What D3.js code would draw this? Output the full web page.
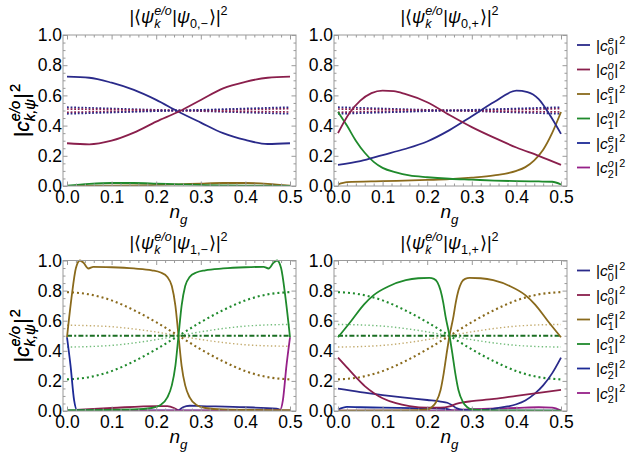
<!DOCTYPE html>
<html><head><meta charset="utf-8">
<script src="https://cdn.jsdelivr.net/npm/d3@7"></script>
<style>
body{margin:0;background:#fff}
svg{display:block}
text{font-family:"Liberation Sans",Arial,"DejaVu Sans",sans-serif;fill:#000}
</style>
</head><body>
<svg id="c" width="636" height="462"></svg>
<script>
// ---------- tick labels ----------
const xTicks = [0, 0.1, 0.2, 0.3, 0.4, 0.5];
const yTicks = [0, 0.2, 0.4, 0.6, 0.8, 1.0];
const xMinor = [0.02,0.04,0.06,0.08,0.12,0.14,0.16,0.18,0.22,0.24,0.26,0.28,0.32,0.34,0.36,0.38,0.42,0.44,0.46,0.48];
const yMinor = [0.05,0.1,0.15,0.25,0.3,0.35,0.45,0.5,0.55,0.65,0.7,0.75,0.85,0.9,0.95];
const legendKeys = ["c0e","c0o","c1e","c1o","c2e","c2o"];

// ---------- panel A : psi_{0,-} ----------
const A_c0e = [[0,.724],[.05,.717],[.1,.684],[.15,.636],[.2,.57],[.25,.492],[.3,.42],[.35,.35],[.4,.305],[.45,.278],[.5,.283]];
const A_c0o = [[0,.283],[.05,.276],[.1,.3],[.15,.353],[.2,.426],[.25,.492],[.3,.57],[.35,.647],[.4,.69],[.45,.717],[.5,.724]];
const A_c1o = [[0,.002],[.05,.014],[.1,.02],[.15,.02],[.2,.016],[.25,.011],[.3,.007],[.35,.004],[.4,.002],[.5,.001]];
const A_c1e = [[0,.001],[.1,.002],[.15,.004],[.2,.007],[.25,.011],[.3,.016],[.35,.02],[.4,.02],[.45,.014],[.5,.002]];
const A_dotNavy1 = [[0,.522],[.25,.5],[.5,.478]];
const A_dotRed1  = [[0,.51],[.25,.5],[.5,.49]];
const A_dotRed2  = [[0,.488],[.25,.5],[.5,.512]];
const A_dotNavy2 = [[0,.478],[.25,.5],[.5,.522]];

// ---------- panel B : psi_{0,+} ----------
const B_c0e = [[0,.14],[.05,.165],[.1,.205],[.15,.245],[.2,.295],[.25,.37],[.3,.462],[.35,.556],[.4,.631],[.425,.622],[.45,.575],[.475,.47],[.5,.345]];
const B_c0o = [[0,.35],[.025,.48],[.05,.565],[.075,.615],[.1,.632],[.125,.628],[.15,.61],[.2,.555],[.25,.47],[.3,.39],[.35,.32],[.4,.255],[.45,.2],[.5,.14]];
const B_c1o = [[0,.49],[.02,.4],[.04,.3],[.06,.22],[.08,.16],[.1,.12],[.13,.09],[.16,.07],[.2,.058],[.25,.048],[.3,.042],[.35,.036],[.4,.032],[.45,.03],[.48,.028],[.5,.01]];
const B_c1e = [[0,.01],[.02,.025],[.1,.032],[.2,.04],[.25,.045],[.3,.055],[.35,.07],[.4,.1],[.42,.125],[.44,.17],[.46,.24],[.48,.35],[.5,.49]];
const B_dotNavy1 = [[0,.522],[.25,.5],[.5,.478]];
const B_dotRed1  = [[0,.51],[.25,.5],[.5,.49]];
const B_dotRed2  = [[0,.488],[.25,.5],[.5,.512]];
const B_dotNavy2 = [[0,.478],[.25,.5],[.5,.522]];

// ---------- panel C : psi_{1,-} ----------
const C_c1e = [[0,.49],[.01,.75],[.02,.95],[.029,1.0],[.037,.985],[.048,.947],[.059,.958],[.1,.955],[.15,.947],[.19,.935],[.21,.92],[.225,.89],[.235,.83],[.243,.7],[.25,.5],[.257,.3],[.265,.17],[.275,.09],[.29,.04],[.31,.02],[.35,.01],[.5,.005]];
const C_c1o = [[0,.005],[.15,.01],[.19,.02],[.21,.04],[.225,.09],[.235,.17],[.243,.3],[.25,.5],[.257,.7],[.265,.83],[.275,.89],[.29,.92],[.31,.935],[.35,.947],[.4,.955],[.441,.958],[.452,.947],[.463,.985],[.471,1.0],[.48,.95],[.49,.75],[.5,.49]];
const C_c2e = [[0,.49],[.008,.3],[.016,.07],[.022,.008],[.05,.004],[.5,.003]];
const C_c2o = [[0,.003],[.45,.004],[.478,.008],[.484,.07],[.492,.3],[.5,.49]];
const C_c0o = [[.02,.008],[.1,.02],[.2,.033],[.225,.033],[.24,.02],[.25,.003]];
const C_c0e = [[.25,.003],[.26,.025],[.275,.035],[.3,.033],[.4,.025],[.47,.015],[.48,.005]];
const C_dotOlive  = [[0,.79],[.05,.775],[.1,.735],[.15,.67],[.2,.59],[.25,.5],[.3,.41],[.35,.33],[.4,.265],[.45,.225],[.5,.21]];
const C_dotGreen  = [[0,.21],[.05,.225],[.1,.265],[.15,.33],[.2,.41],[.25,.5],[.3,.59],[.35,.67],[.4,.735],[.45,.775],[.5,.79]];
const C_lightOlive = [[0,.57],[.05,.567],[.1,.56],[.15,.545],[.2,.525],[.25,.5],[.3,.475],[.35,.455],[.4,.44],[.45,.433],[.5,.43]];
const C_lightGreen = [[0,.425],[.05,.428],[.1,.436],[.15,.452],[.2,.474],[.25,.5],[.3,.526],[.35,.548],[.4,.564],[.45,.572],[.5,.575]];
const C_dashGreen = [[0,.5],[.5,.5]];

// ---------- panel D : psi_{1,+} ----------
const D_c1o = [[0,.49],[.03,.6],[.058,.707],[.08,.77],[.114,.829],[.152,.869],[.18,.882],[.205,.885],[.215,.878],[.223,.855],[.23,.8],[.236,.72],[.241,.63],[.25,.5],[.257,.37],[.263,.25],[.27,.14],[.28,.06],[.29,.025],[.3,.01],[.35,.004],[.5,.003]];
const D_c1e = [[0,.003],[.15,.004],[.2,.01],[.21,.025],[.22,.06],[.23,.14],[.237,.25],[.243,.37],[.25,.5],[.259,.63],[.264,.72],[.27,.8],[.277,.855],[.285,.878],[.295,.885],[.32,.882],[.348,.869],[.386,.829],[.42,.77],[.442,.707],[.47,.6],[.5,.49]];
const D_c0o = [[0,.355],[.02,.29],[.04,.225],[.06,.165],[.08,.12],[.1,.085],[.13,.052],[.16,.033],[.2,.022],[.23,.022],[.25,.03],[.265,.048],[.28,.058],[.3,.065],[.35,.08],[.4,.1],[.45,.12],[.5,.14]];
const D_c0e = [[0,.148],[.05,.125],[.1,.106],[.15,.089],[.2,.073],[.23,.063],[.245,.055],[.255,.04],[.265,.02],[.28,.008],[.3,.005],[.33,.008],[.35,.015],[.38,.03],[.4,.045],[.42,.07],[.44,.112],[.46,.17],[.48,.25],[.5,.355]];
const D_c2e = [[0,.01],[.02,.028],[.05,.025],[.1,.022],[.2,.018],[.24,.015],[.26,.003],[.5,.002]];
const D_c2o = [[0,.002],[.25,.003],[.27,.008],[.3,.012],[.4,.02],[.45,.025],[.48,.022],[.5,.003]];
const D_dotGreen  = [[0,.79],[.05,.775],[.1,.735],[.15,.67],[.2,.59],[.25,.5],[.3,.41],[.35,.33],[.4,.265],[.45,.225],[.5,.21]];
const D_dotOlive  = [[0,.21],[.05,.225],[.1,.265],[.15,.33],[.2,.41],[.25,.5],[.3,.59],[.35,.67],[.4,.735],[.45,.775],[.5,.79]];
const D_lightGreen = [[0,.575],[.05,.572],[.1,.564],[.15,.548],[.2,.526],[.25,.5],[.3,.474],[.35,.452],[.4,.436],[.45,.428],[.5,.425]];
const D_lightOlive = [[0,.425],[.05,.428],[.1,.436],[.15,.452],[.2,.474],[.25,.5],[.3,.526],[.35,.548],[.4,.564],[.45,.572],[.5,.575]];
const D_dashGreen = [[0,.5],[.5,.5]];

// ---------- styles ----------
const colors = {c0e:"#2a2a8a", c0o:"#8a1f4c", c1e:"#8a6a1c", c1o:"#1f8a2c", c2e:"#1c2a96", c2o:"#962088"};
const light = {c1e:"#c4ac70", c1o:"#74bd7c"};

const panels = [
  {title:"0,\u2212", fx:[63,296], fy:[35,186], legend:false,
   lines:[
     {d:A_dotNavy1,c:colors.c0e,k:"dot"},{d:A_dotRed1,c:colors.c0o,k:"dot"},
     {d:A_dotRed2,c:colors.c0o,k:"dot"},{d:A_dotNavy2,c:colors.c0e,k:"dot"},
     {d:A_c1e,c:colors.c1e},{d:A_c1o,c:colors.c1o},
     {d:A_c0e,c:colors.c0e},{d:A_c0o,c:colors.c0o}]},
  {title:"0,+", fx:[334,567], fy:[35,186], legend:true,
   lines:[
     {d:B_dotNavy1,c:colors.c0e,k:"dot"},{d:B_dotRed1,c:colors.c0o,k:"dot"},
     {d:B_dotRed2,c:colors.c0o,k:"dot"},{d:B_dotNavy2,c:colors.c0e,k:"dot"},
     {d:B_c1e,c:colors.c1e},{d:B_c1o,c:colors.c1o},
     {d:B_c0e,c:colors.c0e},{d:B_c0o,c:colors.c0o}]},
  {title:"1,\u2212", fx:[63,296], fy:[260.5,411], legend:false,
   lines:[
     {d:C_lightOlive,c:light.c1e,k:"light"},{d:C_lightGreen,c:light.c1o,k:"light"},
     {d:C_dotOlive,c:colors.c1e,k:"dense"},{d:C_dotGreen,c:colors.c1o,k:"dense"},
     {d:C_dashGreen,c:"#1a6e22",k:"dashdot"},
     {d:C_c0o,c:colors.c0o},{d:C_c0e,c:colors.c0e},
     {d:C_c2e,c:colors.c2e},{d:C_c2o,c:colors.c2o},
     {d:C_c1e,c:colors.c1e},{d:C_c1o,c:colors.c1o}]},
  {title:"1,+", fx:[334,567], fy:[260.5,411], legend:true,
   lines:[
     {d:D_lightOlive,c:light.c1e,k:"light"},{d:D_lightGreen,c:light.c1o,k:"light"},
     {d:D_dotOlive,c:colors.c1e,k:"dense"},{d:D_dotGreen,c:colors.c1o,k:"dense"},
     {d:D_dashGreen,c:"#1a6e22",k:"dashdot"},
     {d:D_c2e,c:colors.c2e},{d:D_c2o,c:colors.c2o},
     {d:D_c0e,c:colors.c0e},{d:D_c0o,c:colors.c0o},
     {d:D_c1e,c:colors.c1e},{d:D_c1o,c:colors.c1o}]}
];

const svg = d3.select("#c");
const FONT = "'Liberation Sans',Arial,'DejaVu Sans',sans-serif";

// rich text helper: parts laid out left to right
function rich(parent, parts, size){
  const g = parent.append("g");
  let x = 0;
  const small = size*0.7, up = -size*0.42, down = size*0.3;
  function put(t, xx, yy, fs, it){
    const e = g.append("text").attr("x",xx).attr("y",yy)
      .style("font-family",FONT)
      .style("font-size",fs+"px").style("font-style",it?"italic":"normal").text(t);
    return e.node().getComputedTextLength();
  }
  parts.forEach(p=>{
    if(p.stack){
      const w1 = put(p.stack.sup, x, up, small, p.stack.supIt);
      const w2 = put(p.stack.sub, x, down, small, p.stack.subIt);
      x += Math.max(w1,w2) + 0.5;
    } else {
      const fs = p.pos ? small : size;
      const yy = p.pos==="sup" ? up : p.pos==="sub" ? down : 0;
      x += put(p.t, x, yy, fs, p.it) + (p.gap||0);
    }
  });
  return {g, w:x};
}

function titleParts(idx){
  return [
    {t:"|\u27E8"},{t:"\u03C8",it:true},{stack:{sup:"e/o",supIt:true,sub:"k",subIt:true}},
    {t:"|"},{t:"\u03C8",it:true},{t:idx,pos:"sub",gap:1},{t:"\u27E9|"},{t:"2",pos:"sup"}
  ];
}

const lineKinds = {
  solid:{w:1.8, dash:null},
  dot:{w:1.7, dash:"1.8,1.8"},
  dense:{w:2.1, dash:"2,3"},
  light:{w:1.4, dash:"1.4,2.4"},
  dashdot:{w:2.1, dash:"5,2.2,2,2.2"}
};

panels.forEach(P=>{
  const x = d3.scaleLinear().domain([-0.00897, 0.51345]).range(P.fx);
  const y = d3.scaleLinear().domain([0,1]).range([P.fy[1], P.fy[0]]);
  const g = svg.append("g");
  const clipId = "clip"+P.fx[0]+"_"+Math.round(P.fy[0]);
  g.append("clipPath").attr("id",clipId).append("rect")
    .attr("x",P.fx[0]).attr("y",P.fy[0]-2).attr("width",P.fx[1]-P.fx[0]).attr("height",P.fy[1]-P.fy[0]+2);

  const line = d3.line().x(d=>x(d[0])).y(d=>y(d[1])).curve(d3.curveMonotoneX);
  const lg = g.append("g").attr("clip-path","url(#"+clipId+")");
  P.lines.forEach(L=>{
    const k = lineKinds[L.k||"solid"];
    lg.append("path").attr("d",line(L.d)).attr("fill","none")
      .attr("stroke",L.c).attr("stroke-width",k.w)
      .attr("stroke-dasharray",k.dash).attr("stroke-linejoin","round");
  });

  // frame
  g.append("rect").attr("x",P.fx[0]).attr("y",P.fy[0])
    .attr("width",P.fx[1]-P.fx[0]).attr("height",P.fy[1]-P.fy[0])
    .attr("fill","none").attr("stroke","#9a9a9a").attr("stroke-width",1);

  const fmt = d3.format(".1f");
  function styleAxis(a){
    a.select(".domain").remove();
    a.selectAll(".tick line").attr("stroke","#9a9a9a");
    a.selectAll("text").style("font-size","17.5px").attr("fill","#111")
      .style("font-family",FONT);
  }
  // major
  styleAxis(g.append("g").attr("transform",`translate(0,${P.fy[1]})`)
    .call(d3.axisBottom(x).tickValues(xTicks).tickFormat(fmt).tickSizeInner(-4.5).tickSizeOuter(0).tickPadding(5)));
  styleAxis(g.append("g").attr("transform",`translate(${P.fx[0]},0)`)
    .call(d3.axisLeft(y).tickValues(yTicks).tickFormat(fmt).tickSizeInner(-4.5).tickSizeOuter(0).tickPadding(1)));
  styleAxis(g.append("g").attr("transform",`translate(0,${P.fy[0]})`)
    .call(d3.axisTop(x).tickValues(xTicks).tickFormat("").tickSizeInner(-4.5).tickSizeOuter(0)));
  styleAxis(g.append("g").attr("transform",`translate(${P.fx[1]},0)`)
    .call(d3.axisRight(y).tickValues(yTicks).tickFormat("").tickSizeInner(-4.5).tickSizeOuter(0)));
  // minor
  styleAxis(g.append("g").attr("transform",`translate(0,${P.fy[1]})`)
    .call(d3.axisBottom(x).tickValues(xMinor).tickFormat("").tickSizeInner(-2.5).tickSizeOuter(0)));
  styleAxis(g.append("g").attr("transform",`translate(0,${P.fy[0]})`)
    .call(d3.axisTop(x).tickValues(xMinor).tickFormat("").tickSizeInner(-2.5).tickSizeOuter(0)));
  styleAxis(g.append("g").attr("transform",`translate(${P.fx[0]},0)`)
    .call(d3.axisLeft(y).tickValues(yMinor).tickFormat("").tickSizeInner(-2.5).tickSizeOuter(0)));
  styleAxis(g.append("g").attr("transform",`translate(${P.fx[1]},0)`)
    .call(d3.axisRight(y).tickValues(yMinor).tickFormat("").tickSizeInner(-2.5).tickSizeOuter(0)));

  const cx = x(0.25);
  // title
  const t = rich(svg, titleParts(P.title), 18);
  t.g.attr("transform",`translate(${cx - t.w/2},${P.fy[0]-12})`);
  // x label
  const xl = rich(svg, [{t:"n",it:true},{t:"g",it:true,pos:"sub"}], 19);
  xl.g.attr("transform",`translate(${cx - xl.w/2},${P.fy[1]+32})`);
  // y label
  const yc = (P.fy[0]+P.fy[1])/2;
  const yl = rich(svg, [{t:"|"},{t:"c",it:true},{stack:{sup:"e/o",supIt:true,sub:"k,\u03C8",subIt:true}},{t:"|",gap:1},{t:"2",pos:"sup"}], 21);
  yl.g.attr("transform",`translate(${29},${yc}) rotate(-90) translate(${-yl.w/2},0)`);

  if(P.legend){
    legendKeys.forEach((k,i)=>{
      const ly = P.fy[0] + 10 + i*24.5;
      svg.append("line").attr("x1",577).attr("x2",590).attr("y1",ly).attr("y2",ly)
        .attr("stroke",colors[k]).attr("stroke-width",1.8);
      const lab = rich(svg, [{t:"|"},{t:"c",it:true},{stack:{sup:k[2],supIt:true,sub:k[1],subIt:false}},{t:" |",gap:1},{t:"2",pos:"sup"}], 15.5);
      lab.g.attr("transform",`translate(596,${ly+5.5})`);
    });
  }
});
</script>
</body></html>
